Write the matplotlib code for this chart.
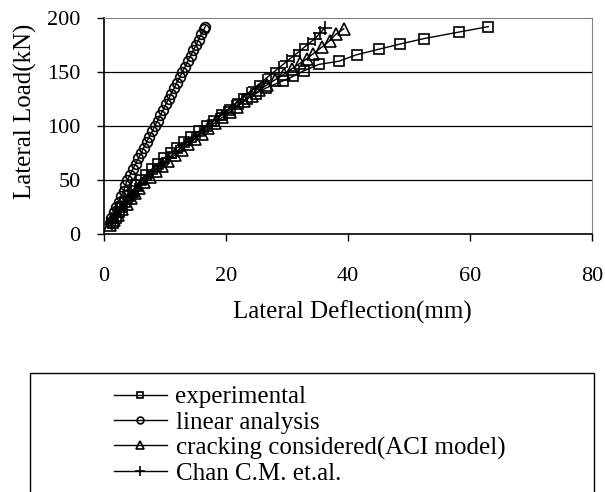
import matplotlib
matplotlib.use("Agg")
import matplotlib.pyplot as plt
from matplotlib.patches import Rectangle

plt.rcParams['font.family'] = ['Liberation Serif', 'DejaVu Serif']

# experimental load-deflection curve
exp_load = [10, 15, 20, 25, 30, 35, 40, 45, 50, 55, 60, 65, 70, 75, 80, 85, 90, 95,
            100, 105, 110, 115, 120, 125, 130, 135, 142, 146, 151, 157, 160, 166,
            171, 176, 181, 187, 192]
exp_defl = [1.5, 1.9, 2.4, 2.9, 3.5, 4.1, 4.7, 5.3, 6.0, 6.9, 7.8, 8.8, 9.8, 10.9,
            12.0, 13.1, 14.3, 15.5, 16.8, 18.0, 19.3, 20.6, 22.0, 23.4, 24.9, 26.5,
            29.4, 31.0, 32.7, 35.2, 38.5, 41.4, 45.0, 48.6, 52.5, 58.2, 63.0]

# linear analysis
lin_load = [10, 15, 20, 25, 30, 35, 40, 45, 50, 55, 60, 65, 70, 75, 80, 85, 90, 95,
            100, 105, 110, 115, 120, 125, 130, 135, 140, 145, 150, 155, 160, 165,
            170, 175, 180, 185, 190, 192]
lin_defl = [0.9, 1.2, 1.6, 2.0, 2.4, 2.8, 3.2, 3.5, 3.8, 4.3, 4.7, 5.2, 5.6, 6.1,
            6.5, 7.0, 7.4, 7.9, 8.3, 8.8, 9.2, 9.7, 10.1, 10.6, 11.0, 11.5, 11.9,
            12.4, 12.8, 13.3, 13.7, 14.2, 14.6, 15.1, 15.5, 15.9, 16.4, 16.6]

# cracking considered (ACI model)
aci_load = [8, 13, 18, 23, 28, 33, 38, 43, 48, 53, 58, 63, 68, 73, 78, 83, 88, 93,
            98, 103, 108, 113, 118, 123, 128, 133, 138, 143, 148, 153, 158, 162,
            167, 173, 179, 185, 190]
aci_defl = [1.0, 1.6, 2.3, 3.0, 3.7, 4.4, 5.1, 5.8, 6.6, 7.5, 8.5, 9.5, 10.5, 11.6,
            12.7, 13.8, 14.9, 16.0, 17.0, 18.2, 19.4, 20.6, 21.8, 23.0, 24.2, 25.4,
            26.7, 28.1, 29.5, 30.8, 32.1, 33.2, 34.3, 35.7, 37.0, 38.0, 39.3]

# Chan C.M. et al.
chan_load = [10, 16, 22, 28, 34, 40, 46, 52, 58, 64, 70, 76, 82, 88, 94, 100, 106,
             112, 118, 124, 130, 136, 142, 148, 154, 160, 165, 170, 176, 181, 186, 191]
chan_defl = [1.3, 2.0, 2.8, 3.6, 4.5, 5.3, 6.1, 7.0, 8.1, 9.3, 10.5, 11.8, 13.1,
             14.4, 15.7, 17.0, 18.3, 19.6, 20.9, 22.2, 23.5, 24.8, 26.1, 27.4, 28.7,
             30.0, 31.1, 32.2, 33.5, 34.6, 35.4, 36.2]

fig = plt.figure(figsize=(6.05, 4.92), dpi=100)
ax = fig.add_axes([0.172, 0.5244, 0.8065, 0.439])

mk = dict(color='black', lw=1.0, mfc='none', mec='black', mew=1.2)
ax.plot(exp_defl, exp_load, marker='s', ms=7, label='experimental', **mk)
ax.plot(lin_defl, lin_load, marker='o', ms=7, label='linear analysis', **mk)
ax.plot(aci_defl, aci_load, marker='^', ms=8, label='cracking considered(ACI model)', **mk)
ax.plot(chan_defl, chan_load, marker='+', ms=10, label='Chan C.M. et.al.', **mk)

ax.set_xlim(0, 80)
ax.set_ylim(0, 200)
ax.set_xticks([0, 20, 40, 60, 80])
ax.set_yticks([0, 50, 100, 150, 200])
for y in [50, 100, 150]:
    ax.axhline(y, color='black', lw=0.9, zorder=0)
ax.spines['top'].set_color('#808080')
ax.spines['right'].set_color('#808080')
ax.spines['left'].set_linewidth(1.2)
ax.spines['bottom'].set_linewidth(1.2)
ax.tick_params(direction='out', length=5, width=1, labelsize=16)
ax.tick_params(axis='x', pad=19)
ax.tick_params(axis='y', pad=12)
ax.set_xlabel('Lateral Deflection(mm)', fontsize=18, labelpad=10)
ax.set_ylabel('Lateral Load(kN)', fontsize=18, labelpad=7)
ax.xaxis.label.set_x(0.508)
ax.yaxis.label.set_y(0.57)

# legend box running off the bottom edge
fig.patches.append(Rectangle((30 / 605, -0.05), 564 / 605, 1 - 373 / 492 + 0.05,
                             transform=fig.transFigure, fill=False,
                             edgecolor='black', lw=1.0))
fig.legend(loc='upper left', bbox_to_anchor=(114 / 605, 1 - 386 / 492),
           frameon=False, fontsize=18, handlelength=2.1, handletextpad=0.36,
           labelspacing=0.11, markerscale=0.7, borderpad=0, borderaxespad=0)

fig.savefig('out.png', dpi=100)
